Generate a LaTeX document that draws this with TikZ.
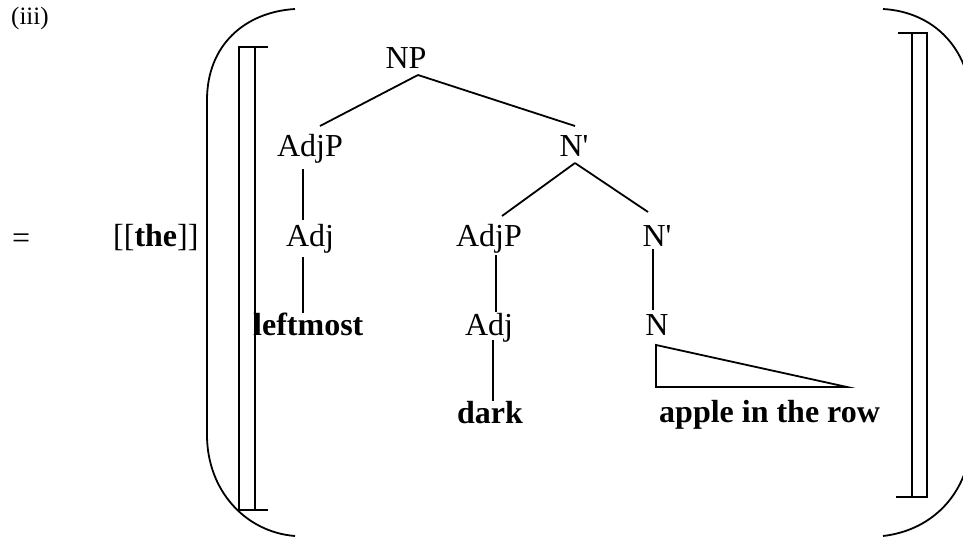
\documentclass[tikz,border=0pt]{standalone}
\usepackage{fontspec}
\setmainfont{Liberation Serif}
\begin{document}
\begin{tikzpicture}[x=1pt,y=-1pt,
  lbl/.style={font=\fontsize{32}{38}\selectfont, inner sep=0pt, anchor=base},
  blbl/.style={font=\fontsize{32}{38}\selectfont\bfseries, inner sep=0pt, anchor=base},
  edge/.style={line width=1.8pt},
  delim/.style={line width=1.8pt}]
\useasboundingbox (0,0) rectangle (963,537);
\clip (0,0) rectangle (963,537);

% labels outside
\node[font=\fontsize{25}{30}\selectfont, inner sep=0pt, anchor=base west] (ex) at (11,25) {(iii)};
\node[lbl, anchor=base west] (eq) at (12,248) {=};
\node[lbl, anchor=base west] (the) at (113,247) {[[\textbf{the}]]};

% tree labels
\node[lbl] (np) at (406,69) {NP};
\node[lbl] (adjpA) at (310,157) {AdjP};
\node[lbl] (nbarA) at (574,157) {N\textquotesingle};
\node[lbl] (adjA) at (310,247) {Adj};
\node[lbl] (adjpB) at (489,247) {AdjP};
\node[lbl] (nbarB) at (657,247) {N\textquotesingle};
\node[blbl, anchor=base west] (leftmost) at (253,335) {leftmost};
\node[lbl] (adjB) at (489,335) {Adj};
\node[lbl] (n) at (657,335) {N};
\node[blbl] (dark) at (490,423) {dark};
\node[blbl, anchor=base west] (apple) at (659,422) {apple in the row};

% connector end points
\coordinate (np-b) at (418,75);
\coordinate (adjpA-t) at (320,126);
\coordinate (nbarA-t) at (575,126);
\coordinate (adjpA-b) at (303,169);
\coordinate (adjA-t) at (303,220);
\coordinate (adjA-b) at (303,257);
\coordinate (leftmost-t) at (303,313);
\coordinate (nbarA-b) at (575,163);
\coordinate (adjpB-t) at (502,216);
\coordinate (nbarB-t) at (648,212);
\coordinate (adjpB-b) at (496,255);
\coordinate (adjB-t) at (496,312);
\coordinate (adjB-b) at (493,340);
\coordinate (dark-t) at (493,401);
\coordinate (nbarB-b) at (653,249);
\coordinate (n-t) at (653,310);
\coordinate (tri-a) at (656,345);
\coordinate (tri-b) at (656,387);
\coordinate (tri-c) at (847,387);

% tree edges
\draw[edge] (np-b) -- (adjpA-t);
\draw[edge] (np-b) -- (nbarA-t);
\draw[edge] (adjpA-b) -- (adjA-t);
\draw[edge] (adjA-b) -- (leftmost-t);
\draw[edge] (nbarA-b) -- (adjpB-t);
\draw[edge] (nbarA-b) -- (nbarB-t);
\draw[edge] (adjpB-b) -- (adjB-t);
\draw[edge] (adjB-b) -- (dark-t);
\draw[edge] (nbarB-b) -- (n-t);
\draw[edge, line join=miter] (tri-a) -- (tri-b) -- (tri-c) -- cycle;

% double brackets
\draw[delim] (268,47) -- (239,47) -- (239,510) -- (268,510);
\draw[delim] (255,47) -- (255,510);
\draw[delim] (898,33) -- (927,33) -- (927,497) -- (896,497);
\draw[delim] (912,33) -- (912,497);

% parentheses
\draw[delim] (295,9) .. controls (245,12) and (207,45) .. (207,100)
  -- (207,435) .. controls (207,490) and (245,532) .. (295,536);
\draw[delim] (883,9) .. controls (935,12) and (972,50) .. (972,110)
  -- (972,430) .. controls (972,490) and (935,530) .. (883,536);
\end{tikzpicture}
\end{document}
